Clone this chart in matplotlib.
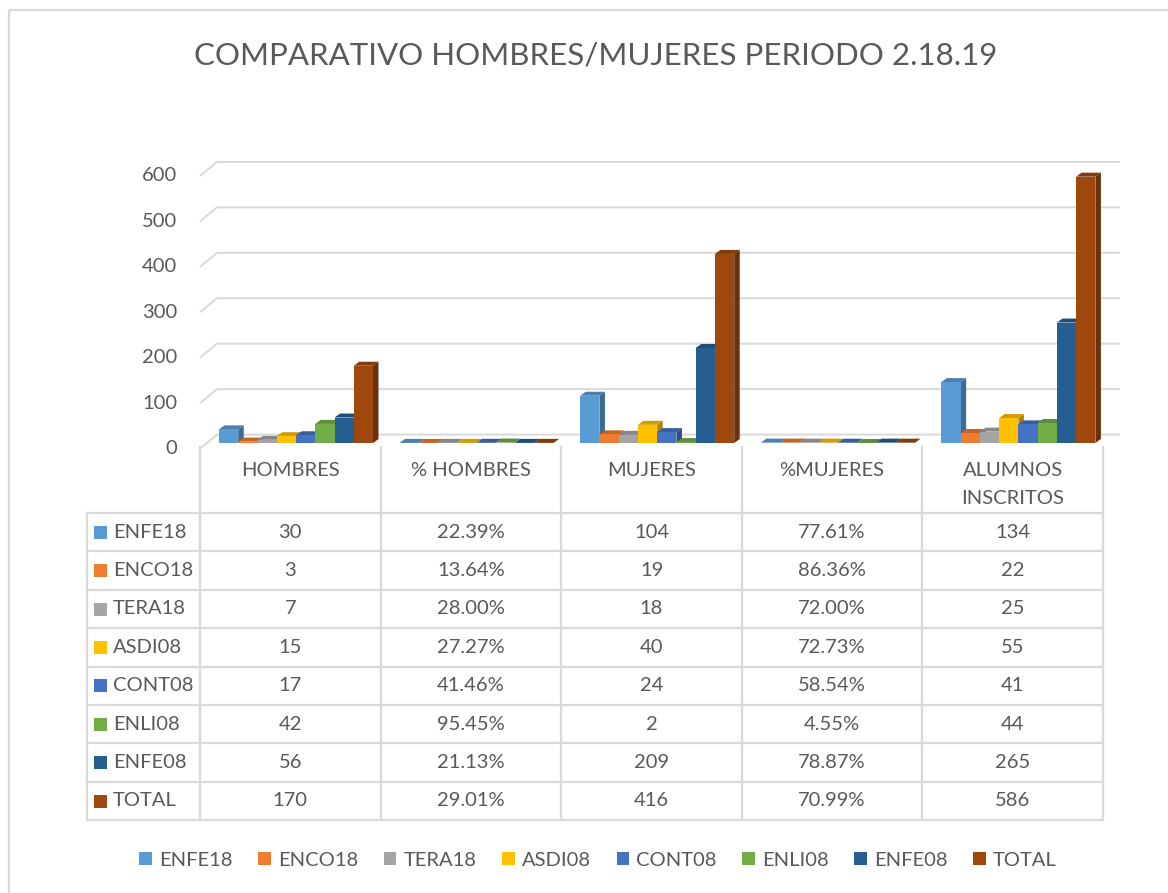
import matplotlib
matplotlib.use('Agg')
import matplotlib.pyplot as plt
from matplotlib.patches import Polygon, Rectangle
import matplotlib.colors as mcolors

# ---------------- data ----------------
categories = ['HOMBRES', '% HOMBRES', 'MUJERES', '%MUJERES', 'ALUMNOS\nINSCRITOS']
series = ['ENFE18', 'ENCO18', 'TERA18', 'ASDI08', 'CONT08', 'ENLI08', 'ENFE08', 'TOTAL']
hombres = [30, 3, 7, 15, 17, 42, 56, 170]
pct_hombres = [22.39, 13.64, 28.00, 27.27, 41.46, 95.45, 21.13, 29.01]
mujeres = [104, 19, 18, 40, 24, 2, 209, 416]
pct_mujeres = [77.61, 86.36, 72.00, 72.73, 58.54, 4.55, 78.87, 70.99]
inscritos = [134, 22, 25, 55, 41, 44, 265, 586]
y_ticks = [0, 100, 200, 300, 400, 500, 600]
colors = ['#5B9BD5', '#ED7D31', '#A5A5A5', '#FFC000', '#4472C4', '#70AD47', '#255E91', '#9E480E']
title = 'COMPARATIVO HOMBRES/MUJERES PERIODO 2.18.19'

# heights plotted (percent columns are fractions in the sheet)
columns = [
    ([v for v in hombres], [f'{v}' for v in hombres]),
    ([v / 100 for v in pct_hombres], [f'{v:.2f}%' for v in pct_hombres]),
    ([v for v in mujeres], [f'{v}' for v in mujeres]),
    ([v / 100 for v in pct_mujeres], [f'{v:.2f}%' for v in pct_mujeres]),
    ([v for v in inscritos], [f'{v}' for v in inscritos]),
]

# ---------------- layout ----------------
W, H = 1168, 893
FONT = 'Lato'
TXT = '#595959'
GRID = '#d9d9d9'
FS = 14.5
plt.rcParams['font.family'] = [FONT, 'DejaVu Sans']

fig = plt.figure(figsize=(W / 100, H / 100), dpi=100)
fig.patch.set_facecolor('white')

def fx(px):
    return px / W

def fy(py):
    return 1 - py / H

# overlay in pixel coordinates for frame / table
ov = fig.add_axes([0, 0, 1, 1])
ov.set_xlim(0, W)
ov.set_ylim(H, 0)
ov.axis('off')

# main plot axes
PPU = 0.4545           # px per unit
Y0 = 443               # px of value 0 (bar front)
X_L, X_R = 200, 1103
CAT_PX = (X_R - X_L) / 5
ax_top, ax_bot = 140, 470
ax = fig.add_axes([fx(X_L), fy(ax_bot), (X_R - X_L) / W, (ax_bot - ax_top) / H])
ax.set_xlim(0, 5)
ax.set_ylim((Y0 - ax_bot) / PPU, (Y0 - ax_top) / PPU)
ax.axis('off')

# gridlines (3D back wall)
front_off = (Y0 - 448.6) / PPU
back_off = (Y0 - 434.6) / PPU
gx = 17 / CAT_PX
gx_end = (1120 - X_L) / CAT_PX
for v in y_ticks:
    ax.plot([0, gx, gx_end], [v + front_off, v + back_off, v + back_off],
            color=GRID, lw=1.4, zorder=1, clip_on=False, solid_capstyle='butt')
    ax.text(-23 / CAT_PX, v + front_off, str(v), ha='right', va='center',
            fontsize=FS, color=TXT)

# bars with 3D faces
bw = 19.25 / CAT_PX
start = 19 / CAT_PX
ddx = 5.5 / CAT_PX
ddy = 4 / PPU

def shade(c, f):
    r, g, b = mcolors.to_rgb(c)
    return (r * f, g * f, b * f)

for i, (vals, _) in enumerate(columns):
    for j, h in enumerate(vals):
        x0 = i + start + j * bw
        z = 3 + j * 0.01
        side = Polygon([(x0 + bw, 0), (x0 + bw + ddx, ddy), (x0 + bw + ddx, h + ddy), (x0 + bw, h)],
                       closed=True, facecolor=shade(colors[j], 0.68), edgecolor='none', zorder=z, clip_on=False)
        top = Polygon([(x0, h), (x0 + bw, h), (x0 + bw + ddx, h + ddy), (x0 + ddx, h + ddy)],
                      closed=True, facecolor=shade(colors[j], 0.82), edgecolor='none', zorder=z, clip_on=False)
        ax.add_patch(side)
        ax.add_patch(top)
        ax.bar(x0, h, width=bw, align='edge', color=colors[j], lw=0, zorder=z + 0.005, clip_on=False)

# title
fig.text(fx(596), fy(55), title, ha='center', va='center', fontsize=22.5,
         color=TXT, fontweight='normal')

# outer frame
ov.add_patch(Rectangle((8.5, 10), W + 20, H + 20, fill=False, edgecolor=GRID, lw=1.6))

# ---------------- data table ----------------
col_edges = [X_L + k * CAT_PX for k in range(6)]
T_LEFT = 86.7
HDR_TOP = 447
ROW_TOP = 513
ROW_H = 38.4
n = len(series)
lw_t = 1.6
for xe in col_edges:
    ov.plot([xe, xe], [HDR_TOP, ROW_TOP + n * ROW_H], color=GRID, lw=lw_t, zorder=2)
ov.plot([T_LEFT, T_LEFT], [ROW_TOP, ROW_TOP + n * ROW_H], color=GRID, lw=lw_t, zorder=2)
for r in range(n + 1):
    yy = ROW_TOP + r * ROW_H
    ov.plot([T_LEFT, col_edges[-1]], [yy, yy], color=GRID, lw=lw_t, zorder=2)

for k, cat in enumerate(categories):
    cx = (col_edges[k] + col_edges[k + 1]) / 2
    ov.text(cx, 462, cat, ha='center', va='top', fontsize=FS, color=TXT, linespacing=1.8)

for r, name in enumerate(series):
    cy = ROW_TOP + (r + 0.5) * ROW_H
    ov.add_patch(Rectangle((94, cy - 6.5), 13, 13, facecolor=colors[r], edgecolor='none', zorder=3))
    ov.text(113, cy, name, ha='left', va='center', fontsize=FS, color=TXT)
    for k, (_, labels) in enumerate(columns):
        cx = (col_edges[k] + col_edges[k + 1]) / 2
        ov.text(cx, cy, labels[r], ha='center', va='center', fontsize=FS, color=TXT)

# ---------------- legend ----------------
handles = [Rectangle((0, 0), 1, 1, facecolor=c, edgecolor='none') for c in colors]
fig.legend(handles, series, loc='center', bbox_to_anchor=(fx(598), fy(860)), ncol=8,
           frameon=False, fontsize=FS, handlelength=0.62, handleheight=0.62,
           handletextpad=0.35, columnspacing=1.28, labelcolor=TXT)

fig.savefig('out.png', dpi=100, facecolor='white')
